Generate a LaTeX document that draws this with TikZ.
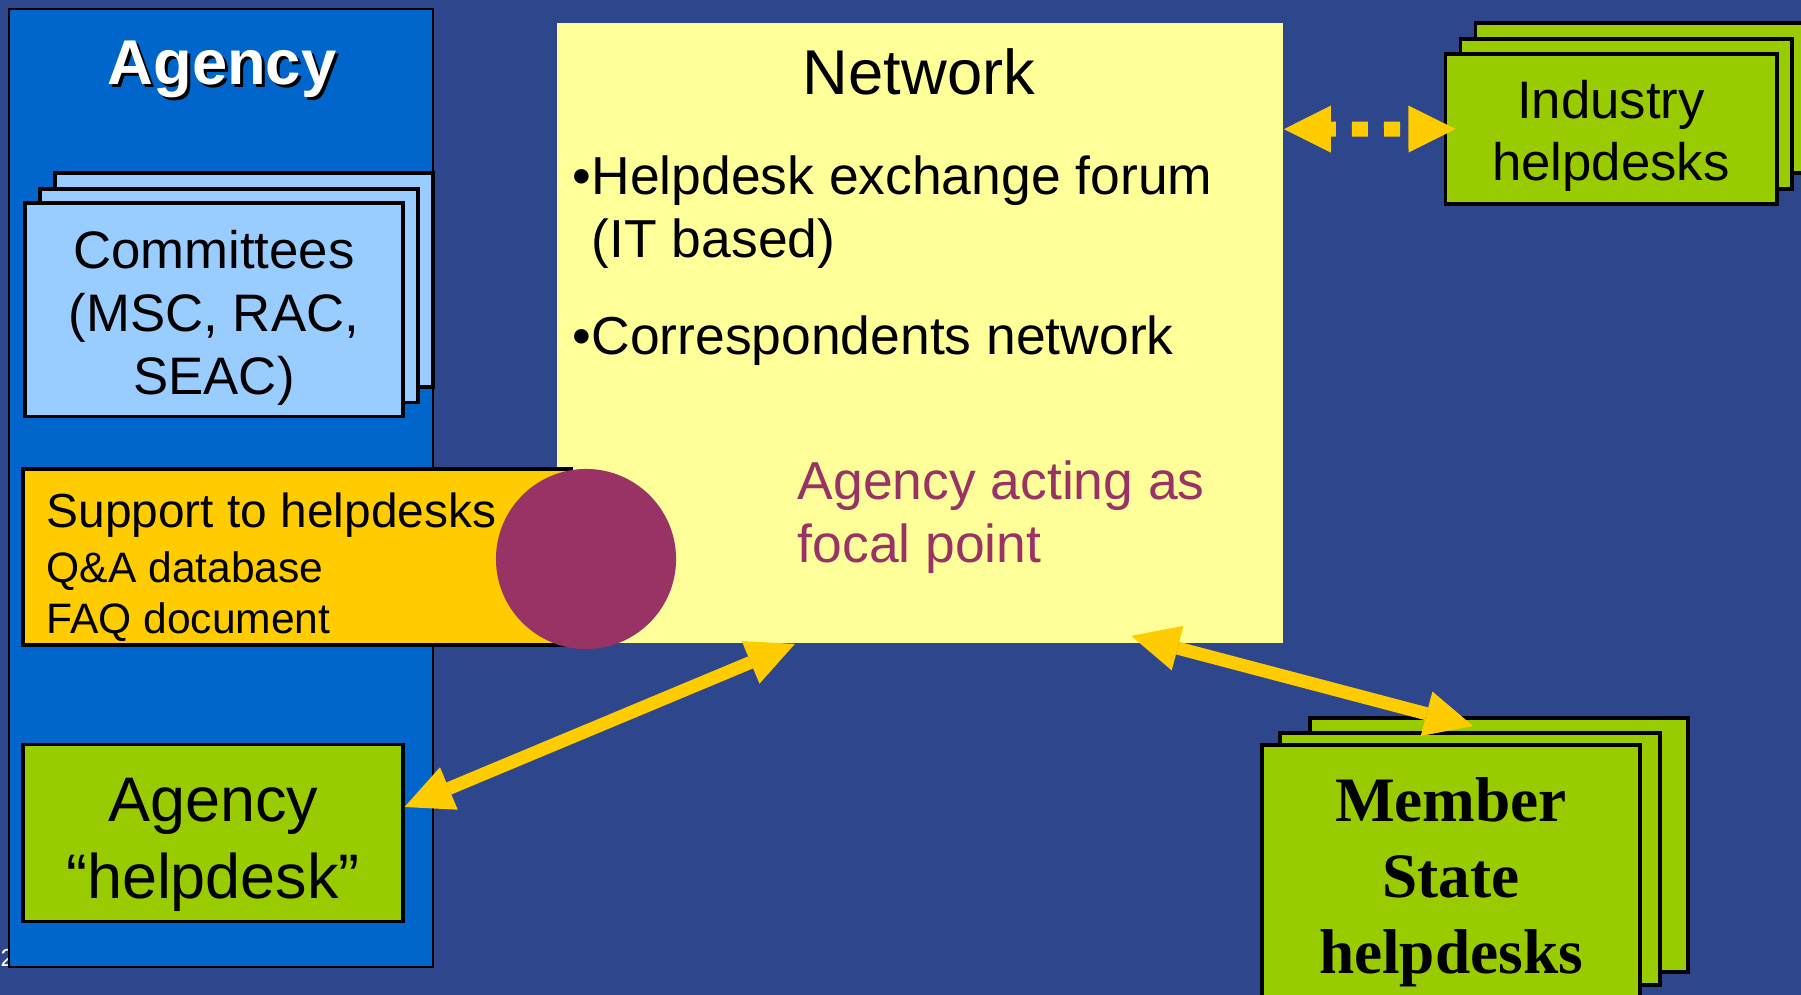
\documentclass[tikz,border=0pt]{standalone}
\usepackage{fontspec}
\setmainfont{Liberation Sans}
\newfontfamily\serifbold{Liberation Serif}
\usetikzlibrary{arrows.meta}

\definecolor{slidebg}{HTML}{2E478C}
\definecolor{agencyblue}{HTML}{0066CC}
\definecolor{lightblue}{HTML}{99CCFF}
\definecolor{netyellow}{HTML}{FFFF99}
\definecolor{gold}{HTML}{FFCC00}
\definecolor{deskgreen}{HTML}{99CC00}
\definecolor{focalpurple}{HTML}{993366}

\tikzset{
  card/.style={draw=black,line width=1.1pt,inner sep=0pt},
  txt/.style={inner sep=0pt},
  cardtext/.style={inner sep=0pt,align=center},
  yellowarrow/.style={draw=gold,line width=0.13cm,
    {Triangle[length=0.48cm,width=0.46cm,line width=0pt]}-{Triangle[length=0.48cm,width=0.46cm,line width=0pt]}},
  dotarrow/.style={draw=gold,line width=0.15cm,dash pattern=on 0.16cm off 0.16cm,dash phase=0.11cm,
    {Triangle[length=0.47cm,width=0.47cm,line width=0pt]}-{Triangle[length=0.47cm,width=0.47cm,line width=0pt]}},
}

\begin{document}
\begin{tikzpicture}[x=0.01cm,y=-0.01cm]
  \fill[slidebg](0,0) rectangle(1801,995);
  \useasboundingbox(0,0) rectangle(1801,995);
  \node[txt,anchor=west,text=white,font=\fontsize{7}{8}\selectfont] (slideno) at (0,958) {2};
  \node[draw=black,line width=0.6pt,fill=agencyblue,minimum width=4.24cm,minimum height=9.58cm,inner sep=0pt] (agency) at (221,488) {};
  \node[font=\bfseries\fontsize{18}{20}\selectfont,text=black] (titleshadow) at (225,72) {Agency};
  \node[font=\bfseries\fontsize{18}{20}\selectfont,text=white] (title) at (222,69) {Agency};

  \node[card,fill=lightblue,minimum width=3.78cm,minimum height=2.14cm] (comback) at (244,280) {};
  \node[card,fill=lightblue,minimum width=3.78cm,minimum height=2.13cm] (commid) at (229,296) {};
  \node[card,fill=lightblue,minimum width=3.78cm,minimum height=2.13cm] (committees) at (214,310) {};
  \node[cardtext,font=\fontsize{15}{17.9}\selectfont] (comtext) at (214,318) {Committees\\(MSC, RAC,\\SEAC)};

  \node[fill=netyellow,minimum width=7.26cm,minimum height=6.2cm,inner sep=0pt] (network) at (920,333) {};
  \node[card,fill=gold,minimum width=5.48cm,minimum height=1.76cm] (support) at (297,557) {};
  \node[txt,anchor=west,align=left,font=\fontsize{12.1}{14.5}\selectfont] (supptext) at (46,567) {{\fontsize{13.6}{15.6}\selectfont Support to helpdesks}\\[1pt]Q\&A database\\FAQ document};
  \node[circle,fill=focalpurple,minimum size=1.8cm,inner sep=0pt] (focal) at (586,559) {};

  \node[font=\fontsize{18}{20}\selectfont] (nettitle) at (919,72) {Network};
  \node[txt,anchor=west,font=\fontsize{15.2}{18}\selectfont] (forum) at (572,181) {•Helpdesk exchange forum};
  \node[txt,anchor=west,font=\fontsize{15.2}{18}\selectfont] (itbased) at (591,244) {(IT based)};
  \node[txt,anchor=west,font=\fontsize{15.2}{18}\selectfont] (corresp) at (572,341) {•Correspondents network};
  \node[txt,anchor=west,align=left,text=focalpurple,font=\fontsize{15.2}{17.9}\selectfont] (focaltext) at (797,517) {Agency acting as\\focal point};

  \node[card,fill=deskgreen,minimum width=3.31cm,minimum height=1.5cm] (indback) at (1641,98) {};
  \node[card,fill=deskgreen,minimum width=3.31cm,minimum height=1.5cm] (indmid) at (1626,114) {};
  \node[card,fill=deskgreen,minimum width=3.31cm,minimum height=1.5cm] (industry) at (1611,129) {};
  \node[cardtext,font=\fontsize{15}{17.6}\selectfont] (indtext) at (1611,136) {Industry\\helpdesks};

  \node[card,fill=deskgreen,minimum width=3.77cm,minimum height=2.54cm] (msback) at (1499,845) {};
  \node[card,fill=deskgreen,minimum width=3.79cm,minimum height=2.52cm] (msmid) at (1470,859) {};
  \node[card,fill=deskgreen,minimum width=3.78cm,minimum height=2.6cm] (member) at (1451,875) {};
  \node[cardtext,font=\serifbold\bfseries\fontsize{18}{21.6}\selectfont] (memtext) at (1451,882) {Member\\State\\helpdesks};

  \node[card,fill=deskgreen,minimum width=3.79cm,minimum height=1.77cm] (aghelp) at (213,833) {};
  \node[cardtext,font=\fontsize{17.9}{21.8}\selectfont] (aghelptext) at (213,845) {Agency\\“helpdesk”};

  \draw[yellowarrow]([yshift=0.26cm]aghelp.east)--([xshift=-1.25cm]network.south);
  \draw[yellowarrow]([xshift=2.11cm,yshift=0.08cm]network.south)--([xshift=-0.26cm,yshift=-0.1cm]msback.north);
  \draw[dotarrow]([yshift=-1.07cm]network.north east)--([xshift=0.12cm]industry.west);
\end{tikzpicture}
\end{document}
